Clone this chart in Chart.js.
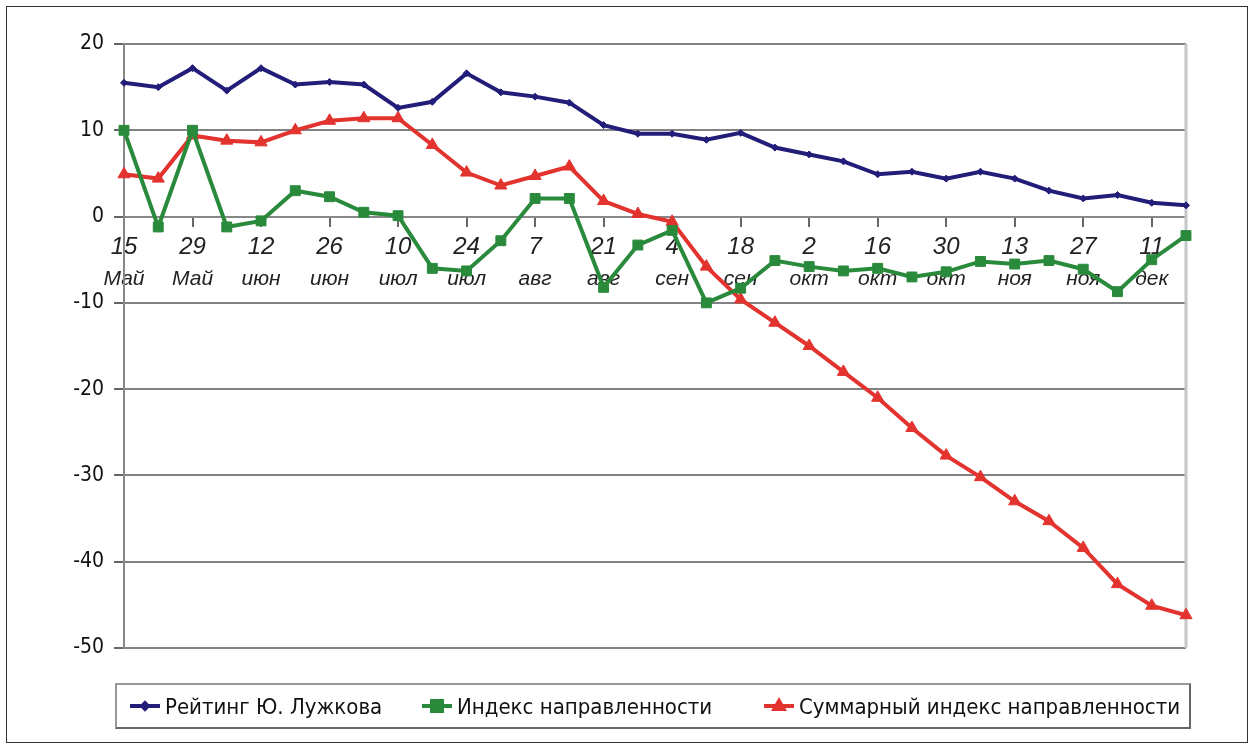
<!DOCTYPE html>
<html>
<head>
<meta charset="utf-8">
<script src="https://cdn.jsdelivr.net/npm/chart.js@4/dist/chart.umd.min.js"></script>
<style>
  body { margin: 0; background: #fff; }
  #wrap { position: relative; width: 1254px; height: 749px; }
  #frame { position: absolute; left: 6px; top: 6px; width: 1240px; height: 735px; border: 1.5px solid #333; pointer-events: none; }
  #legend { position: absolute; left: 115px; top: 683px; width: 1072px; height: 42px; border: 2px solid #666; border-top-color: #999; border-left-color: #999;
    font-family: 'Liberation Sans Narrow', 'DejaVu Sans Condensed', 'Liberation Sans', sans-serif; font-size: 22px; color: #111; }
  .item { position: absolute; top: 6px; height: 30px; display: flex; align-items: center; white-space: nowrap; }
  .sym { position: relative; width: 30px; height: 30px; margin-right: 5px; }
  .sym .ln { position: absolute; left: 0; top: 13px; width: 30px; height: 4px; }
</style>
</head>
<body>
<div id="wrap">
  <canvas id="chart" width="1254" height="749"></canvas>
  <div id="frame"></div>
  <div id="legend"></div>
</div>
<script>
// weekly points, May 15 - Dec 18
const categories = ['15 Май','22 Май','29 Май','5 июн','12 июн','19 июн','26 июн','3 июл','10 июл','17 июл','24 июл','31 июл',
  '7 авг','14 авг','21 авг','28 авг','4 сен','11 сен','18 сен','25 сен','2 окт','9 окт','16 окт','23 окт','30 окт',
  '6 ноя','13 ноя','20 ноя','27 ноя','4 дек','11 дек','18 дек'];

const rating = [15.5, 15.0, 17.2, 14.6, 17.2, 15.3, 15.6, 15.3, 12.6, 13.3, 16.6, 14.4, 13.9, 13.2, 10.6, 9.6,
  9.6, 8.9, 9.7, 8.0, 7.2, 6.4, 4.9, 5.2, 4.4, 5.2, 4.4, 3.0, 2.1, 2.5, 1.6, 1.3];
const index = [10.0, -1.2, 10.0, -1.2, -0.5, 3.0, 2.3, 0.5, 0.1, -6.0, -6.3, -2.8, 2.1, 2.1, -8.2, -3.3,
  -1.6, -10.0, -8.3, -5.1, -5.8, -6.3, -6.0, -7.0, -6.4, -5.2, -5.5, -5.1, -6.1, -8.7, -5.0, -2.2];
const total = [4.9, 4.4, 9.4, 8.8, 8.6, 10.0, 11.1, 11.4, 11.4, 8.3, 5.1, 3.6, 4.7, 5.8, 1.8, 0.3,
  -0.6, -5.8, -9.6, -12.3, -15.0, -18.0, -21.0, -24.5, -27.7, -30.2, -33.0, -35.3, -38.4, -42.6, -45.1, -46.2];

const seriesNames = ['Рейтинг Ю. Лужкова', 'Индекс направленности', 'Суммарный индекс направленности'];
const colors = ['#221d78', '#2a8a3c', '#e3332e'];
const yTicks = [20, 10, 0, -10, -20, -30, -40, -50];

const narrow = "'Liberation Sans Narrow', 'DejaVu Sans Condensed', 'Liberation Sans', sans-serif";
const italic = "'Liberation Sans', sans-serif";

// right edge line of the plot
const rightEdge = {
  id: 'rightEdge',
  beforeDatasetsDraw(chart) {
    const a = chart.chartArea, c = chart.ctx;
    c.save();
    c.strokeStyle = '#c4c8c8';
    c.lineWidth = 3;
    c.beginPath(); c.moveTo(a.right, a.top); c.lineTo(a.right, a.bottom); c.stroke();
    c.restore();
  }
};

const even = i => i % 2 === 0;

new Chart(document.getElementById('chart'), {
  type: 'line',
  data: {
    labels: categories,
    datasets: [
      { label: seriesNames[0], data: rating, borderColor: colors[0], backgroundColor: colors[0], borderWidth: 4,
        pointStyle: 'rectRot', pointRadius: 3.5, pointBorderWidth: 1 },
      { label: seriesNames[1], data: index, borderColor: colors[1], backgroundColor: colors[1], borderWidth: 4,
        pointStyle: 'rect', pointRadius: 7, pointBorderWidth: 1 },
      { label: seriesNames[2], data: total, borderColor: colors[2], backgroundColor: colors[2], borderWidth: 4,
        pointStyle: 'triangle', pointRadius: 7, pointBorderWidth: 1 }
    ]
  },
  options: {
    responsive: false,
    animation: false,
    devicePixelRatio: 1,
    layout: { padding: { left: 0, top: 44, right: 68, bottom: 101 } },
    plugins: { legend: { display: false }, tooltip: { enabled: false } },
    scales: {
      x: {
        type: 'category',
        position: { y: 0 },
        offset: false,
        grid: { drawOnChartArea: false, drawTicks: true, tickLength: 9, lineWidth: 2,
          tickColor: ctx => even(ctx.index) ? '#666' : 'rgba(0,0,0,0)' },
        border: { color: '#888', width: 2 },
        ticks: { autoSkip: false, maxRotation: 0, padding: 7, color: '#222',
          font: { family: italic, size: 24, style: 'italic' },
          callback: (v, i) => even(i) ? categories[i].split(' ')[0] : '' }
      },
      x2: {
        type: 'category',
        position: { y: 0 },
        offset: false,
        grid: { display: false, drawTicks: false },
        border: { display: false },
        ticks: { autoSkip: false, maxRotation: 0, padding: 50, color: '#222',
          font: { family: italic, size: 21, style: 'italic' },
          callback: (v, i) => even(i) ? categories[i].split(' ')[1] : '' }
      },
      y: {
        min: yTicks[yTicks.length - 1],
        max: yTicks[0],
        afterFit: s => { s.width = 124; },
        afterBuildTicks: s => { s.ticks = yTicks.map(v => ({ value: v })); },
        grid: { color: '#828282', lineWidth: 2, tickLength: 10, tickColor: '#666' },
        border: { color: '#888', width: 2 },
        ticks: { padding: 10, color: '#111', font: { family: narrow, size: 21 } }
      }
    }
  },
  plugins: [rightEdge]
});

// legend
const legendPos = [13, 305, 647];
const legend = document.getElementById('legend');
seriesNames.forEach((name, i) => {
  const item = document.createElement('div');
  item.className = 'item';
  item.style.left = legendPos[i] + 'px';
  let mark = '';
  if (i === 0) mark = `<div style="position:absolute;left:11px;top:11px;width:8px;height:8px;background:${colors[0]};transform:rotate(45deg)"></div>`;
  if (i === 1) mark = `<div style="position:absolute;left:8px;top:8px;width:14px;height:14px;background:${colors[1]}"></div>`;
  if (i === 2) mark = `<div style="position:absolute;left:7px;top:6px;width:0;height:0;border-left:8px solid transparent;border-right:8px solid transparent;border-bottom:14px solid ${colors[2]}"></div>`;
  item.innerHTML = `<div class="sym"><div class="ln" style="background:${colors[i]}"></div>${mark}</div><span>${name}</span>`;
  legend.appendChild(item);
});
</script>
</body>
</html>
